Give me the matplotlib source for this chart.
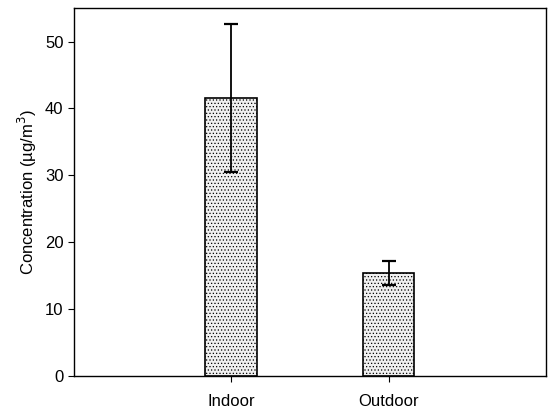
import matplotlib
matplotlib.use("Agg")
import matplotlib.pyplot as plt

plt.rcParams['font.family'] = ['Liberation Sans', 'DejaVu Sans']
plt.rcParams['hatch.color'] = '#a8a8a8'
plt.rcParams['hatch.linewidth'] = 0.5

# data
locations = ['Indoor', 'Outdoor']
means = [41.6, 15.4]
errors = [11.1, 1.8]

fig = plt.figure(figsize=(5.48, 4.12), dpi=100)
ax = fig.add_axes([0.135, 0.088, 0.861, 0.892])

x = range(len(locations))
ax.bar(x, means, width=0.33, color='#efefef', edgecolor='black',
       linewidth=1.2, hatch='.....')
ax.errorbar(x, means, yerr=errors, fmt='none', ecolor='black',
            elinewidth=1.3, capsize=5, capthick=1.6)

ax.set_xlim(-1, 2)
ax.set_ylim(0, 55)
ax.set_xticks(list(x))
ax.set_xticklabels(locations, fontsize=12)
ax.set_yticks([0, 10, 20, 30, 40, 50])
ax.tick_params(axis='y', labelsize=12, direction='out', length=4)
ax.tick_params(axis='x', direction='out', length=4, pad=9)
ax.set_ylabel('Concentration (µg/m$^3$)', fontsize=12)

for s in ax.spines.values():
    s.set_linewidth(1.0)

fig.savefig('out.png', dpi=100)
